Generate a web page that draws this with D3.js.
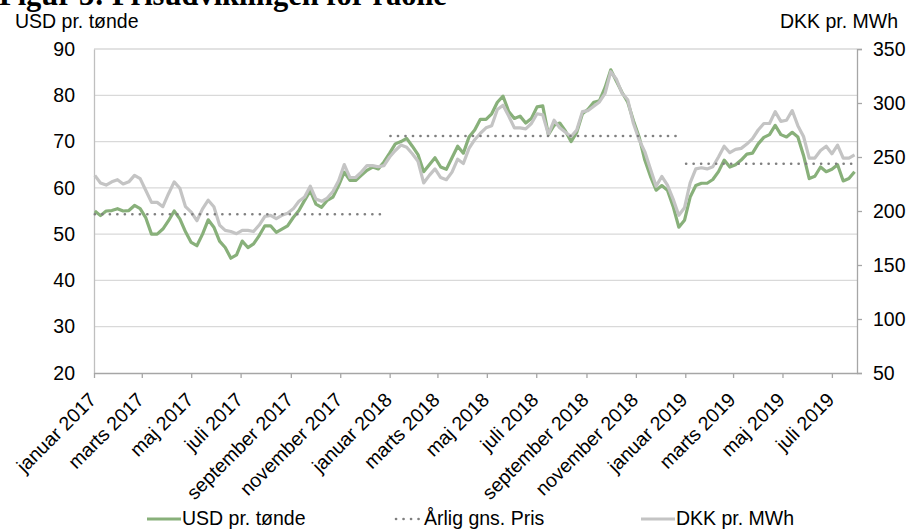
<!DOCTYPE html>
<html>
<head>
<meta charset="utf-8">
<script src="https://cdn.jsdelivr.net/npm/d3@7"></script>
<style>
  body { margin: 0; background: #fff; }
  svg { display: block; font-family: "Liberation Sans", Arial, sans-serif; }
</style>
</head>
<body>
<svg id="chart" width="909" height="529"></svg>
<script>
// weekly observations (mondays)
const weeks = [
  "2017-01-02","2017-01-09","2017-01-16","2017-01-23","2017-01-30","2017-02-06","2017-02-13","2017-02-20","2017-02-27","2017-03-06",
  "2017-03-13","2017-03-20","2017-03-27","2017-04-03","2017-04-10","2017-04-17","2017-04-24","2017-05-01","2017-05-08","2017-05-15",
  "2017-05-22","2017-05-29","2017-06-05","2017-06-12","2017-06-19","2017-06-26","2017-07-03","2017-07-10","2017-07-17","2017-07-24",
  "2017-07-31","2017-08-07","2017-08-14","2017-08-21","2017-08-28","2017-09-04","2017-09-11","2017-09-18","2017-09-25","2017-10-02",
  "2017-10-09","2017-10-16","2017-10-23","2017-10-30","2017-11-06","2017-11-13","2017-11-20","2017-11-27","2017-12-04","2017-12-11",
  "2017-12-18","2017-12-25","2018-01-01","2018-01-08","2018-01-15","2018-01-22","2018-01-29","2018-02-05","2018-02-12","2018-02-19",
  "2018-02-26","2018-03-05","2018-03-12","2018-03-19","2018-03-26","2018-04-02","2018-04-09","2018-04-16","2018-04-23","2018-04-30",
  "2018-05-07","2018-05-14","2018-05-21","2018-05-28","2018-06-04","2018-06-11","2018-06-18","2018-06-25","2018-07-02","2018-07-09",
  "2018-07-16","2018-07-23","2018-07-30","2018-08-06","2018-08-13","2018-08-20","2018-08-27","2018-09-03","2018-09-10","2018-09-17",
  "2018-09-24","2018-10-01","2018-10-08","2018-10-15","2018-10-22","2018-10-29","2018-11-05","2018-11-12","2018-11-19","2018-11-26",
  "2018-12-03","2018-12-10","2018-12-17","2018-12-24","2018-12-31","2019-01-07","2019-01-14","2019-01-21","2019-01-28","2019-02-04",
  "2019-02-11","2019-02-18","2019-02-25","2019-03-04","2019-03-11","2019-03-18","2019-03-25","2019-04-01","2019-04-08","2019-04-15",
  "2019-04-22","2019-04-29","2019-05-06","2019-05-13","2019-05-20","2019-05-27","2019-06-03","2019-06-10","2019-06-17","2019-06-24",
  "2019-07-01","2019-07-08","2019-07-15","2019-07-22","2019-07-29"
];

const usd = [
  55.0, 54.0, 55.0, 55.1, 55.5, 55.0, 55.1, 56.2, 55.5, 53.5,
  50.0, 50.0, 51.1, 52.9, 55.0, 53.3, 50.5, 48.2, 47.5, 50.0,
  53.1, 51.5, 48.5, 47.1, 44.8, 45.5, 48.5, 47.1, 47.9, 49.7,
  51.8, 51.8, 50.4, 51.1, 51.8, 53.6, 55.1, 57.3, 59.4, 56.5,
  55.8, 57.3, 58.0, 60.5, 63.4, 61.6, 61.6, 62.7, 63.8, 64.5,
  64.1, 65.6, 67.5, 69.5, 70.0, 70.7, 69.0, 67.2, 63.5, 65.0,
  66.5, 64.5, 64.0, 66.5, 69.0, 67.5, 71.0, 72.5, 74.8, 74.8,
  76.0, 78.5, 79.8, 76.5, 75.0, 75.5, 74.0, 75.0, 77.5, 77.7,
  71.5, 73.5, 74.0, 72.3, 70.0, 72.0, 76.0, 77.0, 78.5, 78.8,
  81.7, 85.5, 83.0, 80.6, 78.5, 74.5, 71.0, 66.0, 62.5, 59.5,
  60.5, 59.5, 56.0, 51.5, 53.0, 58.0, 60.5, 61.0, 61.0, 61.8,
  63.5, 66.0, 64.5, 65.0, 66.0, 67.3, 67.5, 69.5, 70.9, 71.5,
  73.5, 71.5, 71.0, 72.0, 71.0, 67.0, 62.0, 62.5, 64.5, 63.5,
  64.0, 65.0, 61.5, 62.0, 63.5
];

const dkk = [
  233, 226, 224, 227, 229, 225, 227, 233, 230, 219,
  208, 208, 204, 216, 227, 221, 204, 199, 191, 202,
  210, 204, 187, 182, 181, 179, 182, 182, 181, 187,
  195, 196, 193, 196, 198, 202, 209, 213, 223, 211,
  209, 212, 218, 228, 243, 231, 231, 236, 242, 242,
  241, 242, 250, 256, 261, 259, 253, 246, 226, 233,
  239, 231, 229, 236, 248, 244, 258, 266, 272, 277,
  279, 294, 298, 288, 277, 277, 276, 281, 290, 289,
  271, 284, 277, 273, 269, 275, 292, 293, 297, 301,
  309, 329, 322, 309, 303, 281, 266, 255, 239, 223,
  232, 224, 211, 196, 203, 226, 239, 240, 239, 241,
  250, 260, 254, 257, 258, 262, 267, 275, 281, 281,
  292, 283, 284, 293, 279, 269, 249, 249, 256, 260,
  253, 261, 249, 249, 252
];

// yearly average price (USD)
const avgStart = ["2017-01-02", "2018-01-02", "2019-01-02"];
const avgEnd = ["2017-12-22", "2018-12-28", "2019-07-31"];
const avgValue = [54.3, 71.2, 65.2];

const monthNames = ["januar","februar","marts","april","maj","juni","juli","august","september","oktober","november","december"];
const leftTicks = [20, 30, 40, 50, 60, 70, 80, 90];
const rightTicks = [50, 100, 150, 200, 250, 300, 350];

const parse = d3.timeParse("%Y-%m-%d");
const green = "#88b07a", grey = "#c4c4c4", dots = "#7f7f7f";
const font = "Liberation Sans, Arial, sans-serif";
const fs = 19.5;
const padding = { left: 94, right: 52, top: 49, bottom: 156 };
const width = 909, height = 529;

const svg = d3.select("#chart");

const x = d3.scaleTime()
  .domain([new Date(2017, 0, 1), new Date(2019, 7, 1)])
  .range([padding.left, width - padding.right]);
const y = d3.scaleLinear().domain([20, 90]).range([height - padding.bottom, padding.top]);
const y2 = d3.scaleLinear().domain([50, 350]).range([height - padding.bottom, padding.top]);

const rows = weeks.map((w, i) => ({ date: parse(w), usd: usd[i], dkk: dkk[i] }));

// gridlines
svg.append("g")
  .selectAll("line")
  .data(leftTicks.slice(1))
  .join("line")
  .attr("x1", padding.left)
  .attr("x2", width - padding.right)
  .attr("y1", (d) => y(d))
  .attr("y2", (d) => y(d))
  .attr("stroke", "#d9d9d9")
  .attr("stroke-width", 1.3);

// left axis
svg.append("g")
  .attr("transform", `translate(${padding.left},0)`)
  .call(d3.axisLeft(y).tickValues(leftTicks).tickSize(0).tickPadding(19))
  .call((g) => g.select(".domain").attr("stroke", "#bfbfbf").attr("stroke-width", 1.3))
  .call((g) => g.selectAll("text").attr("font-size", fs).attr("fill", "#000").attr("font-family", font));

// right axis
svg.append("g")
  .attr("transform", `translate(${width - padding.right},0)`)
  .call(d3.axisRight(y2).tickValues(rightTicks).tickSize(5).tickPadding(11))
  .call((g) => g.select(".domain").attr("stroke", "#a6a6a6").attr("stroke-width", 1.3))
  .call((g) => g.selectAll("line").attr("stroke", "#a6a6a6").attr("stroke-width", 1.3))
  .call((g) => g.selectAll("text").attr("font-size", fs).attr("fill", "#000").attr("font-family", font));

// bottom axis
const xAxis = (g) =>
  g
    .attr("transform", `translate(0,${height - padding.bottom})`)
    .call(d3.axisBottom(x).ticks(d3.timeMonth.every(2)).tickSize(5).tickSizeOuter(0)
      .tickFormat((d) => `${monthNames[d.getMonth()]} ${d.getFullYear()}`))
    .call((g) => g.select(".domain").attr("stroke", "#a6a6a6").attr("stroke-width", 1.3))
    .call((g) => g.selectAll("line").attr("stroke", "#a6a6a6").attr("stroke-width", 1.3))
    .call((g) =>
      g
        .selectAll("text")
        .attr("font-size", fs)
        .attr("fill", "#000")
        .attr("font-family", font)
        .attr("x", 0)
        .attr("y", 0)
        .attr("dy", 0)
        .attr("transform", "translate(3,28) rotate(-45)")
        .style("text-anchor", "end")
    );
svg.append("g").attr("class", "x-axis").call(xAxis);

// series
const usdLine = d3.line().x((d) => x(d.date)).y((d) => y(d.usd));
const dkkLine = d3.line().x((d) => x(d.date)).y((d) => y2(d.dkk));

svg.append("path")
  .datum(rows)
  .attr("fill", "none")
  .attr("stroke", green)
  .attr("stroke-width", 3.2)
  .attr("stroke-linejoin", "round")
  .attr("d", usdLine);

svg.append("path")
  .datum(rows)
  .attr("fill", "none")
  .attr("stroke", grey)
  .attr("stroke-width", 3.2)
  .attr("stroke-linejoin", "round")
  .attr("d", dkkLine);

// yearly averages
svg.append("g")
  .selectAll("line")
  .data(avgValue)
  .join("line")
  .attr("x1", (d, i) => x(parse(avgStart[i])))
  .attr("x2", (d, i) => x(parse(avgEnd[i])))
  .attr("y1", (d) => y(d))
  .attr("y2", (d) => y(d))
  .attr("stroke", dots)
  .attr("stroke-width", 2.6)
  .attr("stroke-linecap", "round")
  .attr("stroke-dasharray", "0.1 7.4");

// titles
svg.append("text")
  .attr("x", -1)
  .attr("y", 5)
  .attr("font-family", "Liberation Serif, 'Times New Roman', serif")
  .attr("font-weight", "bold")
  .attr("font-size", 30.5)
  .text("Figur 3: Prisudviklingen for råolie");

svg.append("text")
  .attr("x", 15)
  .attr("y", 28)
  .attr("font-size", fs)
  .text("USD pr. tønde");

svg.append("text")
  .attr("x", 898)
  .attr("y", 28)
  .attr("font-size", fs)
  .attr("text-anchor", "end")
  .text("DKK pr. MWh");

// legend
const legend = [
  { label: "USD pr. tønde", x: 147, color: green, dash: null },
  { label: "Årlig gns. Pris", x: 395, color: dots, dash: "0.1 7.4" },
  { label: "DKK pr. MWh", x: 641, color: grey, dash: null },
];
const lg = svg.append("g").selectAll("g").data(legend).join("g")
  .attr("transform", (d) => `translate(${d.x},519)`);
lg.append("line")
  .attr("x1", (d) => (d.dash ? 1 : 0))
  .attr("x2", (d) => (d.dash ? 28 : 34))
  .attr("stroke", (d) => d.color)
  .attr("stroke-width", (d) => (d.dash ? 2.6 : 3.2))
  .attr("stroke-linecap", (d) => (d.dash ? "round" : "butt"))
  .attr("stroke-dasharray", (d) => d.dash);
lg.append("text")
  .attr("x", (d) => (d.dash ? 29 : 35))
  .attr("y", 5.5)
  .attr("font-size", fs)
  .text((d) => d.label);
</script>
</body>
</html>
